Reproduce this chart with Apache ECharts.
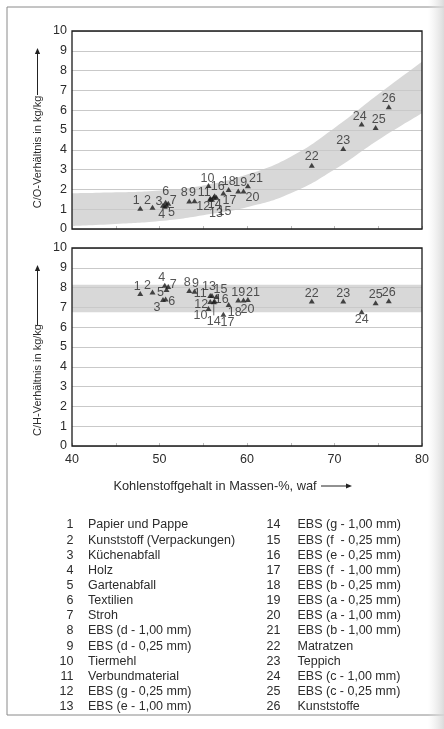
<!DOCTYPE html>
<html>
<head>
<meta charset="utf-8">
<script src="https://cdn.jsdelivr.net/npm/echarts@6/dist/echarts.min.js"></script>
<style>
  html, body { margin: 0; padding: 0; background: #fff; }
  #chart { width: 444px; height: 729px; }
</style>
</head>
<body>
<div id="chart"></div>
<script>
// Kohlenstoffgehalt (Massen-%, waf) je Material 1..26
const carbon = [47.8, 49.2, 50.4, 50.6, 50.8, 50.7, 51.0, 53.4, 54.0, 55.6, 55.8, 55.8, 56.0,
  56.2, 56.5, 56.3, 57.3, 57.9, 59.0, 59.6, 60.1, 67.4, 71.0, 73.1, 74.7, 76.2];
// C/O-Verhältnis
const ratioCO = [1.05, 1.1, 1.2, 1.15, 1.2, 1.35, 1.3, 1.42, 1.43, 2.2, 1.5, 1.55, 1.5,
  1.6, 1.6, 1.68, 1.82, 2.0, 1.92, 1.92, 2.18, 3.22, 4.07, 5.3, 5.13, 6.18];
// C/H-Verhältnis
const ratioCH = [7.7, 7.78, 7.4, 8.12, 7.9, 7.42, 8.05, 7.85, 7.82, 6.95, 7.6, 7.3, 7.6,
  7.28, 7.55, 7.32, 6.65, 7.15, 7.37, 7.37, 7.4, 7.32, 7.32, 6.78, 7.24, 7.34];
const materials = [
  "Papier und Pappe", "Kunststoff (Verpackungen)", "Küchenabfall", "Holz", "Gartenabfall",
  "Textilien", "Stroh", "EBS (d - 1,00 mm)", "EBS (d - 0,25 mm)", "Tiermehl",
  "Verbundmaterial", "EBS (g - 0,25 mm)", "EBS (e - 1,00 mm)", "EBS (g - 1,00 mm)",
  "EBS (f  - 0,25 mm)", "EBS (e - 0,25 mm)", "EBS (f  - 1,00 mm)", "EBS (b - 0,25 mm)",
  "EBS (a - 0,25 mm)", "EBS (a - 1,00 mm)", "EBS (b - 1,00 mm)", "Matratzen", "Teppich",
  "EBS (c - 1,00 mm)", "EBS (c - 0,25 mm)", "Kunststoffe"
];
// Streubänder
const bandX = [40, 45, 50, 55, 60, 65, 70, 75, 80];
const bandCOLow = [0.15, 0.25, 0.4, 0.7, 1.1, 1.8, 3.0, 4.5, 5.85];
const bandCOHigh = [1.8, 1.85, 1.95, 2.2, 2.75, 3.65, 5.1, 6.8, 8.45];
const bandCHX = [40, 80];
const bandCHLow = [6.75, 6.75];
const bandCHHigh = [8.15, 8.15];

// Lage der Nummern relativ zum Punkt (px)
const offCO = [[-4, -8], [-5, -7], [-4, -4], [-3, 8], [5, 7], [0, -11], [5, -3], [-5, -8], [-2, -8],
  [-1, -7], [-6, -7], [-7, 8], [4, 14], [1, 7], [8, 14], [3, -9], [6, 8], [0, -8], [2, -8],
  [9, 7], [8, -7], [0, -9], [0, -8], [-2, -8], [3, -8], [0, -8]];
const offCH = [[-3, -7], [-5, -6], [-6, 8], [-3, -8], [-6, 3], [6, 2], [5, -2], [-2, -8], [1, -8],
  [-8, 7], [-10, -2], [-9, 3], [-3, -9], [0, 20], [4, -7], [7, -2], [4, 8], [6, 8], [0, -8],
  [4, 9], [5, -7], [0, -8], [0, -8], [0, 8], [0, -8], [0, -8]];

const font = "Liberation Sans, Arial, sans-serif";
const textColor = "#2b2b2b";

const chart = echarts.init(document.getElementById("chart"), null, { renderer: "canvas" });

function xAxisDef(gridIndex, labels) {
  return {
    type: "value", gridIndex: gridIndex, min: 40, max: 80, interval: 5, z: 3,
    axisLine: { show: false },
    axisTick: { show: true, inside: true, length: 3, lineStyle: { color: "#bbb" } },
    splitLine: { show: false },
    axisLabel: {
      show: labels, margin: 7, fontSize: 12.5, fontFamily: font, color: textColor,
      formatter: (v) => (v % 10 === 0 ? String(v) : "")
    }
  };
}
function yAxisDef(gridIndex) {
  return {
    type: "value", gridIndex: gridIndex, min: 0, max: 10, interval: 1, z: 3,
    axisLine: { show: false }, axisTick: { show: false },
    splitLine: { lineStyle: { color: "#c9c9c9", width: 1 } },
    axisLabel: { margin: 5, fontSize: 12.5, fontFamily: font, color: textColor }
  };
}
// Band: obere Kurve grau nach unten gefüllt, untere Kurve weiß darüber
function bandSeries(axis, xs, low, high) {
  const base = {
    type: "line", xAxisIndex: axis, yAxisIndex: axis, z: 1, smooth: true, silent: true,
    symbol: "none", lineStyle: { opacity: 0 }
  };
  return [
    Object.assign({}, base, {
      areaStyle: { color: "#d8d8d8", opacity: 1, origin: "start" },
      data: xs.map((x, i) => [x, high[i]])
    }),
    Object.assign({}, base, {
      areaStyle: { color: "#ffffff", opacity: 1, origin: "start" },
      data: xs.map((x, i) => [x, low[i]])
    })
  ];
}
function pointSeries(axis, ys, offs) {
  return {
    type: "scatter", xAxisIndex: axis, yAxisIndex: axis, z: 5,
    symbol: "triangle", symbolSize: [6, 5],
    itemStyle: { color: "#1c1c1c" },
    label: {
      show: true, position: "inside", formatter: "{b}",
      fontSize: 12.5, fontFamily: font, color: textColor
    },
    labelLine: { show: false, lineStyle: { color: "#444", width: 0.8 } },
    labelLayout: (p) => ({ dx: offs[p.dataIndex][0], dy: offs[p.dataIndex][1] }),
    data: carbon.map((x, i) => {
      const d = { value: [x, ys[i]], name: String(i + 1) };
      if (axis === 1 && i === 13) d.labelLine = { show: true };
      return d;
    })
  };
}

// Pfeil als Linie + Spitze
function arrow(x1, y1, x2, y2) {
  const a = Math.atan2(y2 - y1, x2 - x1);
  const L = 6, W = 2.6;
  const bx = x2 - L * Math.cos(a), by = y2 - L * Math.sin(a);
  return [
    { type: "line", shape: { x1: x1, y1: y1, x2: bx, y2: by }, style: { stroke: "#222", lineWidth: 1 } },
    {
      type: "polygon",
      shape: { points: [[x2, y2], [bx + W * Math.sin(a), by - W * Math.cos(a)], [bx - W * Math.sin(a), by + W * Math.cos(a)]] },
      style: { fill: "#222" }
    }
  ];
}

const graphics = [
  { type: "rect", shape: { x: 7, y: 7, width: 470, height: 708 }, style: { fill: "none", stroke: "#8a8a8a", lineWidth: 1 } },
  {
    type: "rect", shape: { x: 428, y: 0, width: 16, height: 729 },
    style: {
      fill: new echarts.graphic.LinearGradient(0, 0, 1, 0, [
        { offset: 0, color: "rgba(230,230,230,0)" }, { offset: 1, color: "rgba(215,215,215,0.9)" }
      ])
    }
  },
  {
    type: "text", x: 37.5, y: 152, rotation: Math.PI / 2,
    style: { text: "C/O-Verhältnis in kg/kg", fontSize: 11, fontFamily: font, fill: textColor, align: "center", verticalAlign: "middle" }
  },
  {
    type: "text", x: 37.5, y: 380, rotation: Math.PI / 2,
    style: { text: "C/H-Verhältnis in kg/kg", fontSize: 11, fontFamily: font, fill: textColor, align: "center", verticalAlign: "middle" }
  },
  {
    type: "text", x: 215, y: 486,
    style: { text: "Kohlenstoffgehalt in Massen-%, waf", fontSize: 12.8, fontFamily: font, fill: textColor, align: "center", verticalAlign: "middle" }
  }
].concat(arrow(37.5, 95, 37.5, 48), arrow(37.5, 325, 37.5, 265), arrow(321, 486, 352, 486));

// Legende in zwei Spalten
materials.forEach((name, i) => {
  const col = i < 13 ? 0 : 1;
  const row = col === 0 ? i : i - 13;
  const y = 525 + row * 15.14;
  const numX = col === 0 ? 73.5 : 280.5;
  const nameX = col === 0 ? 88 : 297.5;
  graphics.push(
    { type: "text", x: numX, y: y, style: { text: String(i + 1), fontSize: 12.5, fontFamily: font, fill: textColor, align: "right", verticalAlign: "middle" } },
    { type: "text", x: nameX, y: y, style: { text: name, fontSize: 12.5, fontFamily: font, fill: textColor, align: "left", verticalAlign: "middle" } }
  );
});

const option = {
  backgroundColor: "#fff",
  animation: false,
  grid: [
    { left: 72, right: 22, top: 31, height: 198, show: true, z: 4, borderColor: "#1a1a1a", borderWidth: 1.3, backgroundColor: "transparent" },
    { left: 72, right: 22, top: 248, height: 198, show: true, z: 4, borderColor: "#1a1a1a", borderWidth: 1.3, backgroundColor: "transparent" }
  ],
  xAxis: [xAxisDef(0, false), xAxisDef(1, true)],
  yAxis: [yAxisDef(0), yAxisDef(1)],
  series: []
    .concat(bandSeries(0, bandX, bandCOLow, bandCOHigh))
    .concat(bandSeries(1, bandCHX, bandCHLow, bandCHHigh))
    .concat([pointSeries(0, ratioCO, offCO), pointSeries(1, ratioCH, offCH)]),
  graphic: graphics
};

chart.setOption(option);
</script>
</body>
</html>
